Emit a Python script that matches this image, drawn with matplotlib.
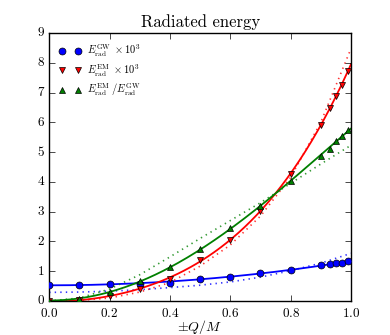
import numpy as np
import matplotlib
matplotlib.use('Agg')
import matplotlib.pyplot as plt

plt.style.use('classic')
plt.rcParams['font.family'] = 'serif'
plt.rcParams['font.serif'] = ['cmr10', 'DejaVu Serif']
plt.rcParams['mathtext.fontset'] = 'cm'
plt.rcParams['axes.formatter.use_mathtext'] = True

# simulation points
q = np.array([0.0, 0.1, 0.2, 0.3, 0.4, 0.5, 0.6, 0.7, 0.8, 0.9, 0.93, 0.95, 0.97, 0.99])
e_gw = np.array([0.55, 0.55, 0.56, 0.57, 0.62, 0.74, 0.82, 0.93, 1.05, 1.20, 1.24, 1.26, 1.28, 1.33])
e_em = np.array([0.0, 0.03, 0.17, 0.40, 0.74, 1.36, 2.06, 3.03, 4.28, 5.91, 6.47, 6.87, 7.27, 7.74])
ratio = np.array([0.0, 0.07, 0.29, 0.67, 1.15, 1.75, 2.44, 3.18, 4.04, 4.87, 5.12, 5.36, 5.55, 5.74])

# dotted comparison curves (sampled off the figure)
q_model = np.array([0.0, 0.1, 0.2, 0.3, 0.4, 0.5, 0.6, 0.7, 0.8, 0.9, 1.0])
gw_model = np.array([0.29, 0.30, 0.33, 0.38, 0.45, 0.53, 0.64, 0.80, 1.02, 1.27, 1.60])
em_model = np.array([0.0, 0.02, 0.10, 0.30, 0.62, 1.17, 1.88, 2.85, 4.15, 6.00, 8.48])
ratio_model = np.array([0.0, 0.10, 0.40, 0.88, 1.48, 2.10, 2.70, 3.30, 3.95, 4.60, 5.23])


def even_fit(x, y, xx):
    # least squares in 1, x^2, x^4
    A = np.vstack([np.ones_like(x), x**2, x**4]).T
    c = np.linalg.lstsq(A, y, rcond=None)[0]
    return c[0] + c[1] * xx**2 + c[2] * xx**4


xx = np.linspace(0, 1, 200)

fig = plt.figure(figsize=(3.9, 3.35), dpi=100)
ax = fig.add_axes([0.126, 0.1015, 0.774, 0.8])

series = [
    (e_gw, gw_model, 'b', 'o', r'$E_{\rm rad}^{\rm GW}\ \times 10^3$'),
    (e_em, em_model, 'r', 'v', r'$E_{\rm rad}^{\rm EM}\ \times 10^3$'),
    (ratio, ratio_model, 'g', '^', r'$E_{\rm rad}^{\rm EM}\ / E_{\rm rad}^{\rm GW}$'),
]

for y, ym, col, mk, lab in series:
    ax.plot(q, y, mk, color=col, ms=5, mew=0.5, label=lab, zorder=3)
    ax.plot(xx, even_fit(q, y, xx), '-', color=col, lw=1.3)
    ax.plot(q_model, ym, ':', color=col, lw=1.2, alpha=0.8)

ax.set_xlim(0, 1)
ax.set_ylim(0, 9)
ax.set_xticks([0.0, 0.2, 0.4, 0.6, 0.8, 1.0])
ax.set_yticks(range(0, 10))
ax.tick_params(labelsize=9.5)
ax.tick_params(axis='x', pad=4)
ax.tick_params(axis='y', pad=3)
ax.set_xlabel(r'$\pm Q/M$', fontsize=10, labelpad=-1)
ax.set_title('Radiated energy', fontsize=12, pad=4)
ax.legend(loc='upper left', frameon=False, numpoints=2, fontsize=7.5,
          handletextpad=0.5, handlelength=2.2, labelspacing=0.3,
          borderaxespad=0.5)

fig.savefig('out.png', dpi=100)
